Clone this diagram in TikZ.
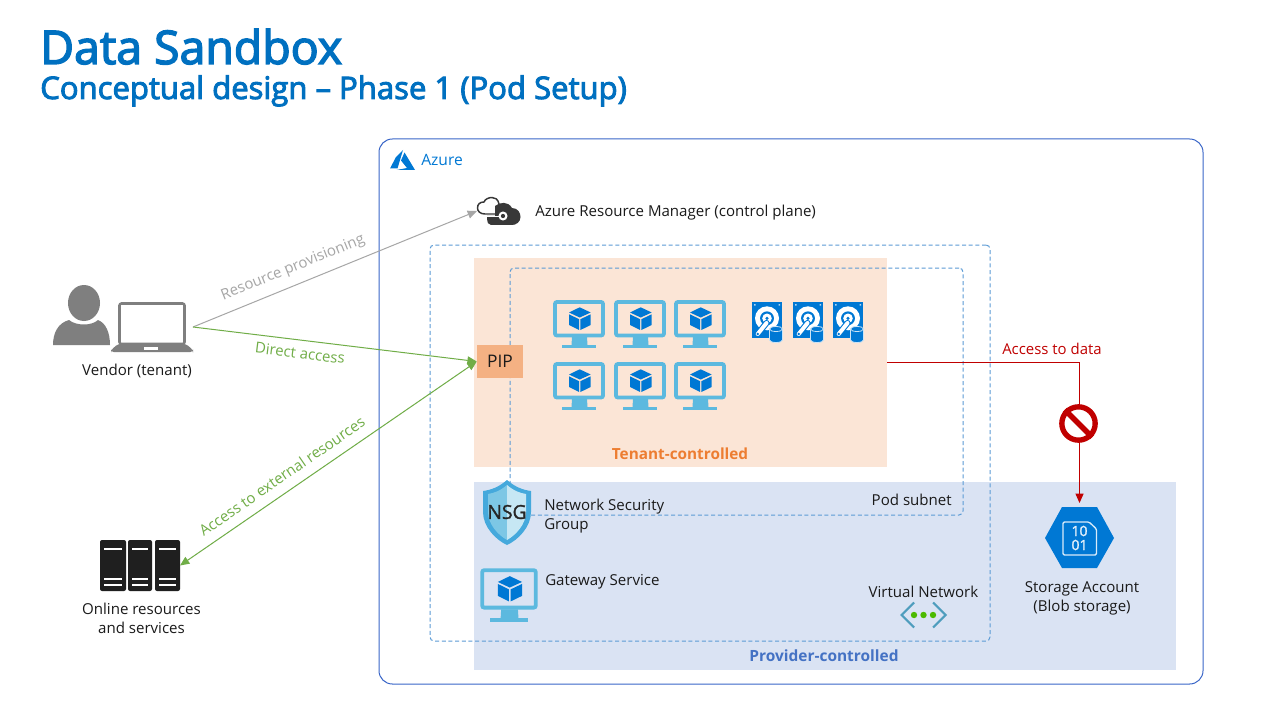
\documentclass[tikz,border=0pt]{standalone}
\usepackage{fontspec}
\setmainfont{Open Sans}
\newfontfamily\titlefont[FakeBold=3]{Open Sans}
\newfontfamily\medfont[FakeBold=1.5]{Open Sans}
\usetikzlibrary{arrows.meta}
\definecolor{azblue}{HTML}{0078D4}
\definecolor{vmblue}{HTML}{5CB9DF}
\definecolor{ttl}{HTML}{0070C0}
\definecolor{frame}{HTML}{3A66C8}
\definecolor{dash}{HTML}{5B9BD5}
\definecolor{orfill}{HTML}{FBE5D6}
\definecolor{blfill}{HTML}{DAE3F3}
\definecolor{pipfill}{HTML}{F4B183}
\definecolor{grn}{HTML}{70AD47}
\definecolor{gry}{HTML}{A6A6A6}
\definecolor{rd}{HTML}{C00000}
\definecolor{icongray}{HTML}{7F7F7F}
\definecolor{txt}{HTML}{1A1A1A}
\definecolor{tnt}{HTML}{ED7D31}
\definecolor{prv}{HTML}{4472C4}
\tikzset{
  x=0.75pt,y=-0.75pt,
  lbl/.style={inner sep=0pt,text=txt,font=\fontsize{11.3}{14.25}\selectfont,align=center},
  slot/.style={inner sep=0pt,outer sep=0pt,minimum width=#1},
  dashbox/.style={draw=dash,line width=0.75pt,dash pattern=on 3pt off 2pt,rounded corners=3pt},
  conn/.style={line width=0.75pt,-{Triangle[length=7pt,width=6pt]}},
  arrowlbl/.style={inner sep=0pt,font=\fontsize{11.2}{13}\selectfont},
}
% virtual machine icon, 52 x 48
\newcommand{\vmicon}[3]{%
\begin{scope}[shift={(#1,#2)},scale=#3]
  \draw[vmblue,line width=2.9pt,rounded corners=1.5pt] (2,2) rectangle (50,35.5);
  \fill[vmblue] (19,37) -- (34,37) -- (34.5,45) -- (18.5,45) -- cycle;
  \fill[vmblue] (9,45) rectangle (43,48);
  \fill[azblue] (26.7,7.3) -- (37.7,12.5) -- (26.7,17.5) -- (16,12.5) -- cycle;
  \fill[azblue] (16,14.3) -- (26,19.2) -- (26,30) -- (16,25) -- cycle;
  \fill[azblue] (37.7,14.3) -- (27.4,19.2) -- (27.4,30) -- (37.7,25) -- cycle;
\end{scope}}
% disk icon, 30 x 40
\newcommand{\diskicon}[2]{%
\begin{scope}[shift={(#1,#2)}]
  \fill[azblue] (0,0) rectangle (30,36);
  \fill[white!70!azblue] (2,2) rectangle (3.5,3.5) (26.5,2) rectangle (28,3.5);
  \fill[white] (15,16.3) ellipse [x radius=9pt,y radius=9pt];
  \fill[azblue] (15,16.3) ellipse [x radius=5.2pt,y radius=5.2pt];
  \fill[white] (15,16.3) ellipse [x radius=3.6pt,y radius=3.6pt];
  \fill[azblue] (15,16.3) ellipse [x radius=1.3pt,y radius=1.3pt];
  \draw[azblue,line width=4.6pt,line cap=round] (5.7,32) -- (14.5,21);
  \draw[white,line width=3pt,line cap=round] (5.7,32) -- (14.5,21);
  \fill[azblue] (5.7,32) ellipse [x radius=1pt,y radius=1pt];
  \fill[azblue,draw=white!80!azblue,line width=0.6pt] (17.5,27) -- (17.5,38) .. controls (18,41.5) and (30,41.5) .. (30.5,38) -- (30.5,27) .. controls (30,23.5) and (18,23.5) .. (17.5,27) -- cycle;
  \draw[white!80!azblue,line width=0.6pt] (17.5,27) .. controls (18,30.5) and (30,30.5) .. (30.5,27);
\end{scope}}
\begin{document}
\begin{tikzpicture}
\useasboundingbox (0,0) rectangle (1280,720);
\fill[white] (0,0) rectangle (1280,720);

% titles
\node[anchor=base west,inner sep=0pt,text=ttl,font=\titlefont\fontsize{34.8}{40}\selectfont] (title) at (40,64) {Data Sandbox};
\node[anchor=base west,inner sep=0pt,text=ttl,font=\titlefont\fontsize{23.3}{28}\selectfont] (subtitle) at (40,99) {Conceptual design – Phase 1 (Pod Setup)};

% regions
\node[draw=frame,line width=0.75pt,rounded corners=10pt,minimum width=618pt,minimum height=408.75pt,inner sep=0pt] (azure) at (791,411.5) {};
\node[fill=orfill,minimum width=309.75pt,minimum height=156.75pt,inner sep=0pt] (tenant) at (680.5,362.5) {};
\node[fill=blfill,minimum width=526.5pt,minimum height=141pt,inner sep=0pt] (provider) at (825,576) {};
\node[dashbox,minimum width=420pt,minimum height=297pt,inner sep=0pt] (vnet) at (710,443) {};
\node[dashbox,minimum width=339.75pt,minimum height=185.25pt,inner sep=0pt] (pod) at (736.5,391.5) {};
\node[fill=pipfill,minimum width=34.5pt,minimum height=24.75pt,inner sep=0pt,text=txt,font=\fontsize{13}{15}\selectfont] (pip) at (500,361.5) {PIP};

% vendor
\fill[icongray] (84,303) ellipse [x radius=12pt,y radius=13.5pt];
\fill[icongray] (53,345) .. controls (53,333) and (58,323) .. (69,320) .. controls (76,326) and (92,326) .. (98,320) .. controls (106,323) and (110,333) .. (110,345) -- cycle;
\node[slot=61.5pt,minimum height=37.5pt] (vendor) at (152,327) {};
\draw[icongray,line width=1.9pt,rounded corners=1.5pt] (119.5,303.5) rectangle (184.5,344);
\fill[icongray,rounded corners=2pt] (118,344) -- (186,344) -- (193,350) -- (193,352) -- (111,352) -- (111,350) -- cycle;
\fill[white] (144,347) rectangle (158,349.5);
\node[lbl] (vendorlbl) at (137,371) {Vendor (tenant)};

% online resources
\node[slot=60pt,minimum height=38.25pt] (online) at (140,565.5) {};
\foreach \xa/\xb in {100/126,128/152,155/180}{
  \fill[black!88,rounded corners=1.5pt] (\xa,540) rectangle (\xb,591);
  \fill[white] (\xa+4,548) rectangle (\xb-4,550);
  \fill[white] (\xa+4,578) rectangle (\xb-4,580);
  \fill[white] (\xa+4,584) rectangle (\xb-4,586);
}
\node[lbl] (onlinelbl) at (141.5,618) {Online resources\\and services};

% azure logo + label
\fill[azblue] (403,150) -- (396,157) -- (390,168.5) -- (397.5,168.5) -- cycle;
\fill[azblue] (404.5,152.5) -- (415,170) -- (396.5,170) -- (407,168) -- (401,160.5) -- cycle;
\node[anchor=west,inner sep=0pt,text=azblue,font=\fontsize{11.7}{13}\selectfont] (azurelbl) at (421,160) {Azure};

% resource manager cloud
\node[slot=32.25pt,minimum height=21pt] (arm) at (498.5,211) {};
\fill[black!78] (495,206) .. controls (500,202) and (508,201) .. (512,208) .. controls (518,208) and (520.5,213) .. (520.5,217) .. controls (520.5,222) and (516,225) .. (512,225) -- (491,225) .. controls (488,225) and (487,222) .. (487,219) -- (487,216) -- (495,216) -- cycle;
\draw[black!78,line width=1.1pt] (499,214) -- (485,214) .. controls (480,214) and (477.5,211) .. (477.5,208) .. controls (477.5,204) and (480,202) .. (484,202) .. controls (485,199) and (489,197.5) .. (492,197.5) .. controls (495,197.5) and (498,199) .. (499,204);
\draw[white,line width=1pt] (483,216.6) -- (500,216.6);
\fill[white] (503,216) ellipse [x radius=3.4pt,y radius=3.4pt];
\fill[black!78] (503,216) ellipse [x radius=1.6pt,y radius=1.6pt];
\node[anchor=west,lbl] (armlbl) at (535,213) {Azure Resource Manager (control plane)};

% VMs
\vmicon{553}{300}{1}\vmicon{614}{300}{1}\vmicon{674}{300}{1}
\vmicon{553}{362}{1}\vmicon{614}{362}{1}\vmicon{674}{362}{1}
\diskicon{752}{302}\diskicon{793}{302}\diskicon{833}{302}
\node[text=tnt,inner sep=0pt,font=\bfseries\fontsize{11.5}{13}\selectfont] (tenantlbl) at (680,454) {Tenant-controlled};

% NSG shield
\fill[vmblue!75!azblue] (507,480) .. controls (515,487) and (523,490) .. (531,491) -- (531,512) .. controls (531,527) and (518,540) .. (507,545) .. controls (496,540) and (483,527) .. (483,512) -- (483,491) .. controls (491,490) and (499,487) .. (507,480) -- cycle;
\fill[vmblue!80!white] (507,485) .. controls (500,491) and (494,493) .. (488,494) -- (488,512) .. controls (488,524) and (498,535) .. (507,540) -- cycle;
\fill[vmblue!35!white] (507,485) .. controls (514,491) and (520,493) .. (526,494) -- (526,512) .. controls (526,524) and (516,535) .. (507,540) -- cycle;
\node[inner sep=0pt,text=black!85,font=\medfont\fontsize{14.5}{17}\selectfont] (nsg) at (507,512) {NSG};
\node[anchor=north west,lbl,align=left] (nsglbl) at (544,498.5) {Network Security\\Group};

% gateway
\vmicon{480}{568}{1.115}
\node[anchor=west,lbl] (gwlbl) at (545,582) {Gateway Service};

\node[anchor=east,lbl] (podlbl) at (952,500) {Pod subnet};
\node[lbl] (vnetlbl) at (923.5,592) {Virtual Network};

% virtual network icon
\draw[vmblue!85!black,line width=1.6pt] (914,602.5) -- (901.5,615) -- (914,627.5);
\draw[vmblue!85!black,line width=1.6pt] (933,602.5) -- (945.5,615) -- (933,627.5);
\foreach \dx in {914,923.5,933}{\fill[green!55!black!60!lime] (\dx,615) ellipse [x radius=2.4pt,y radius=2.4pt];}

\node[text=prv,inner sep=0pt,font=\bfseries\fontsize{11.6}{13}\selectfont] (providerlbl) at (824,656) {Provider-controlled};

% storage
\node[slot=51pt,minimum height=45.75pt] (storage) at (1079.5,537.5) {};
\fill[azblue] (1045,538) -- (1062,507) -- (1097,507) -- (1114,538) -- (1097,568) -- (1062,568) -- cycle;
\draw[white!85!azblue,line width=1pt,rounded corners=1pt] (1063,522) -- (1089,522) -- (1096.5,529) -- (1096.5,555) -- (1063,555) -- cycle;
\node[inner sep=0pt,text=white!90!azblue,align=center,font=\medfont\fontsize{10.5}{10.5}\selectfont] (bits) at (1079.5,538) {10\\01};
\node[lbl] (storagelbl) at (1082,598) {Storage Account\\(Blob storage)};

% connectors
\draw[conn,gry] (vendor.east) -- (arm.west);
\node[arrowlbl,text=gry,rotate=22] (rplbl) at (293,268) {Resource provisioning};
\draw[conn,grn] (vendor.east) -- (pip.west);
\node[arrowlbl,text=grn,rotate=-7] (dalbl) at (300,353) {Direct access};
\draw[grn,line width=0.75pt,{Triangle[length=7pt,width=6pt]}-{Triangle[length=7pt,width=6pt]}] (pip.west) -- (online.east);
\node[arrowlbl,text=grn,rotate=34.5] (exlbl) at (282,476) {Access to external resources};
\draw[conn,rd,shorten >=3pt] (tenant.east) -| (storage.north);
\node[arrowlbl,anchor=west,text=rd] (datalbl) at (1002,349) {Access to data};

% prohibition sign
\node[draw=rd,line width=4pt,fill=white,circle,minimum size=25pt,inner sep=0pt] (noentry) at (1078.5,423.5) {};
\draw[rd,line width=4pt] (noentry.north west) -- (noentry.south east);
\end{tikzpicture}
\end{document}
